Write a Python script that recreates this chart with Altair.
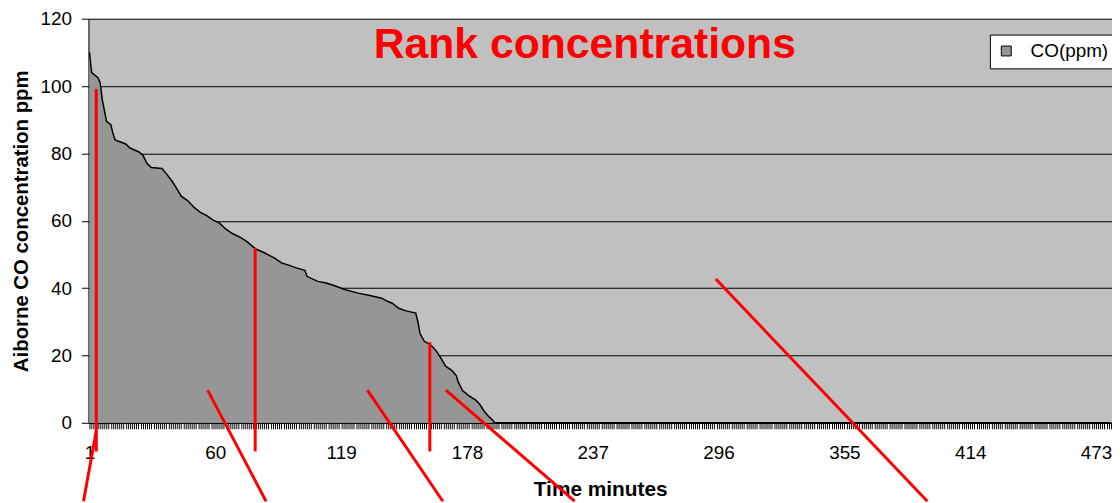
import altair as alt
import pandas as pd

# Ranked CO concentrations (rank position in minutes, ppm)
rank = [1, 2, 5, 6, 7, 9, 11, 12, 13, 18, 20, 24, 26, 28, 30, 35, 37, 40, 42, 44,
        47, 50, 53, 56, 59, 62, 65, 68, 72, 75, 79, 83, 88, 91, 94, 98, 102, 103,
        108, 112, 116, 121, 127, 133, 138, 141, 143, 146, 149, 154, 155, 156, 158,
        160, 162, 164, 166, 168, 171, 173, 174, 176, 179, 182, 184, 186, 188, 190,
        191, 480]
co = [110, 104, 102.5, 101, 96, 89.5, 88.5, 86, 84, 82.8, 81.6, 80.5, 79.5, 77,
      75.8, 75.5, 74, 71.5, 69.5, 67.3, 66, 64, 62.5, 61.5, 60.2, 59.3, 57.5, 56.2,
      55, 53.7, 51.6, 50.5, 48.8, 47.5, 46.9, 46, 45.3, 43.5, 42, 41.5, 40.7, 39.5,
      38.5, 37.7, 37, 36, 35.5, 34, 33.3, 32.6, 30, 26.5, 24.2, 23.5, 22.5, 21, 19,
      16.8, 15.5, 14, 12, 9.5, 8, 6.8, 5.5, 3.5, 2, 0.8, 0, 0]
series_name = "CO(ppm)"

n_minutes = 480
label_step = 59
y_ticks = [0, 20, 40, 60, 80, 100, 120]

chart_title = "Rank concentrations"
x_title = "Time minutes"
y_title = "Aiborne CO concentration ppm"

# Red annotation strokes (data units: rank, ppm)
ann_x1 = [4.2, 4.2, 78.7, 56.4, 131.3, 160.6, 168.1, 294.7]
ann_y1 = [99.1, -2.4, 51.9, 9.7, 9.7, 23.9, 9.7, 42.7]
ann_x2 = [4.2, -1.8, 78.7, 83.8, 166.7, 160.6, 228.5, 393.9]
ann_y2 = [-8.5, -23.3, -8.5, -23.3, -23.3, -8.5, -23.3, -23.3]

FONT = "Liberation Sans"

df = pd.DataFrame({"rank": rank, "co": co, "series": [series_name] * len(rank)})
ann = pd.DataFrame({"x1": ann_x1, "y1": ann_y1, "x2": ann_x2, "y2": ann_y2})
ttl = pd.DataFrame({"t": [chart_title]})

x_scale = alt.Scale(domain=[0.5, n_minutes + 0.5], nice=False, zero=False)
y_scale = alt.Scale(domain=[0, 120], nice=False)

x_axis = alt.Axis(
    values=list(range(1, n_minutes + 1)),
    tickCount=2000,
    labelExpr=f"(datum.value - 1) % {label_step} == 0 ? datum.label : ''",
    labelOverlap=False, labelBound=False, labelFlush=False,
    format="d",
    tickSize=6, tickColor="black", tickWidth=1,
    domainColor="black", domainWidth=1,
    labelFont=FONT, labelFontSize=19, labelColor="black", labelPadding=15,
    title=x_title, titleFont=FONT, titleFontSize=21, titleFontWeight="bold",
    titleColor="black", titlePadding=16, grid=False,
)
y_axis = alt.Axis(
    values=y_ticks,
    grid=True, gridColor="black", gridWidth=1,
    tickSize=7, tickColor="black", domainColor="black",
    labelFont=FONT, labelFontSize=19, labelColor="black", labelPadding=10,
    title=y_title, titleFont=FONT, titleFontSize=20.5, titleFontWeight="bold",
    titleColor="black", titlePadding=9,
)

area = alt.Chart(df).mark_area(opacity=1).encode(
    x=alt.X("rank:Q", scale=x_scale, axis=x_axis),
    y=alt.Y("co:Q", scale=y_scale, axis=y_axis),
    color=alt.Color(
        "series:N",
        scale=alt.Scale(range=["#969696"]),
        legend=alt.Legend(
            title=None, orient="none", legendX=908, legendY=16,
            fillColor="white", strokeColor="black", padding=7,
            symbolType="square", symbolSize=100, symbolStrokeColor="black",
            symbolStrokeWidth=1, labelFont=FONT, labelFontSize=19,
            labelColor="black", labelOffset=15,
        ),
    ),
)

outline = alt.Chart(df).mark_line(color="black", strokeWidth=1.5).encode(
    x="rank:Q", y="co:Q"
)

red = alt.Chart(ann).mark_rule(color="#FF0000", strokeWidth=3, clip=False).encode(
    x="x1:Q", y="y1:Q", x2="x2:Q", y2="y2:Q"
)

title_mark = alt.Chart(ttl).mark_text(
    font=FONT, fontSize=43, fontWeight="bold", color="#FF0000",
    align="center", baseline="middle",
).encode(x=alt.value(500), y=alt.value(27), text="t:N")

chart = alt.layer(area, outline, red, title_mark).properties(
    width=1031, height=407,
    autosize=alt.AutoSizeParams(type="none"),
    padding={"left": 81, "top": 9, "right": 0, "bottom": 79},
    background="white",
).configure_view(fill="#C0C0C0", stroke="transparent")

chart.save("out.html", embed_options={"renderer": "svg", "actions": False})
